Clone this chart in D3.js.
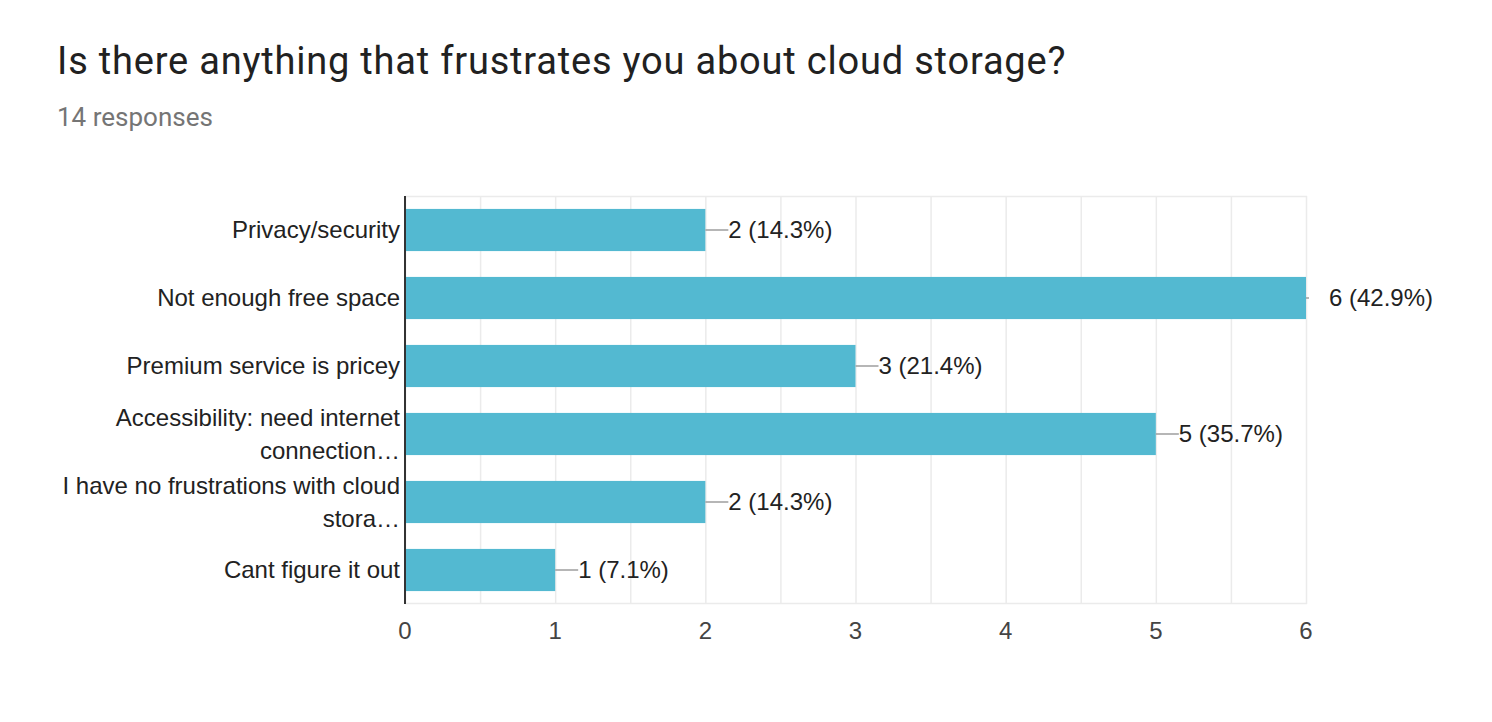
<!DOCTYPE html>
<html><head><meta charset="utf-8">
<script src="https://cdn.jsdelivr.net/npm/d3@7/dist/d3.min.js"></script>
<style>body{margin:0;background:#fff;}svg{display:block;}</style>
</head><body>
<svg id="c" width="1492" height="722"></svg>
<script>
const categories = [
  ["Privacy/security"],
  ["Not enough free space"],
  ["Premium service is pricey"],
  ["Accessibility: need internet", "connection…"],
  ["I have no frustrations with cloud", "stora…"],
  ["Cant figure it out"]
];
const counts = [2, 6, 3, 5, 2, 1];
const percents = ["14.3%", "42.9%", "21.4%", "35.7%", "14.3%", "7.1%"];
const xTicks = [0, 1, 2, 3, 4, 5, 6];
const title = "Is there anything that frustrates you about cloud storage?";
const subtitle = "14 responses";

(function () {
const svg = d3.select("#c");
const pL = 405, pR = 1306, pT = 196, pB = 604;
const fs = 24;
const x = d3.scaleLinear().domain([0, 6]).range([pL, pR]);
const y = d3.scaleBand().domain(d3.range(categories.length)).range([pT, pB]).paddingInner(0.38).paddingOuter(0.19);

svg.append("text").attr("x", 57).attr("y", 74).attr("font-family", "Roboto").attr("font-size", 38)
  .attr("letter-spacing", 0.8).attr("fill", "#212121").text(title);
svg.append("text").attr("x", 57).attr("y", 126).attr("font-family", "Roboto").attr("font-size", 26)
  .attr("fill", "#757575").text(subtitle);

// gridlines every 0.5
const grid = d3.range(0, 6.01, 0.5);
svg.append("g").selectAll("line").data(grid).join("line")
  .attr("x1", d => x(d) + 0.5).attr("x2", d => x(d) + 0.5)
  .attr("y1", pT).attr("y2", pB).attr("stroke", "#ebebeb").attr("stroke-width", 1.5);
svg.append("line").attr("x1", pL).attr("x2", pR + 1).attr("y1", pT + 0.5).attr("y2", pT + 0.5).attr("stroke", "#ebebeb").attr("stroke-width", 1.5);
svg.append("line").attr("x1", pL).attr("x2", pR + 1).attr("y1", pB - 0.5).attr("y2", pB - 0.5).attr("stroke", "#ebebeb").attr("stroke-width", 1.5);

// bars
svg.append("g").selectAll("rect").data(counts).join("rect")
  .attr("x", x(0)).attr("y", (d, i) => y(i)).attr("width", d => x(d) - x(0)).attr("height", y.bandwidth())
  .attr("fill", "#53b9d1");

// connector lines and value labels
const lab = svg.append("g");
counts.forEach((d, i) => {
  const cy = y(i) + y.bandwidth() / 2;
  const x0 = x(d);
  lab.append("line").attr("x1", x0).attr("x2", Math.min(x0 + 23, pR + 3)).attr("y1", cy).attr("y2", cy)
    .attr("stroke", "#9e9e9e").attr("stroke-width", 1.5);
  lab.append("text").attr("x", x0 + 23).attr("y", cy).attr("dy", "0.35em")
    .attr("font-family", "Liberation Sans, Arial").attr("font-size", fs).attr("fill", "#222")
    .text(`${d} (${percents[i]})`);
});

// axis line
svg.append("line").attr("x1", pL).attr("x2", pL).attr("y1", pT).attr("y2", pB)
  .attr("stroke", "#333").attr("stroke-width", 2);

// category labels
categories.forEach((lines, i) => {
  const cy = y(i) + y.bandwidth() / 2;
  const lh = 33;
  const start = cy - (lines.length - 1) * lh / 2;
  const t = svg.append("text").attr("text-anchor", "end").attr("font-family", "Liberation Sans, Arial")
    .attr("font-size", fs).attr("fill", "#222");
  lines.forEach((ln, j) => {
    t.append("tspan").attr("x", 400).attr("y", start + j * lh).attr("dy", "0.35em").text(ln);
  });
});

// x tick labels
svg.append("g").selectAll("text").data(xTicks).join("text")
  .attr("x", d => x(d)).attr("y", 631).attr("dy", "0.35em").attr("text-anchor", "middle")
  .attr("font-family", "Liberation Sans, Arial").attr("font-size", fs).attr("fill", "#444")
  .text(d => d);
})();
</script>
</body></html>
